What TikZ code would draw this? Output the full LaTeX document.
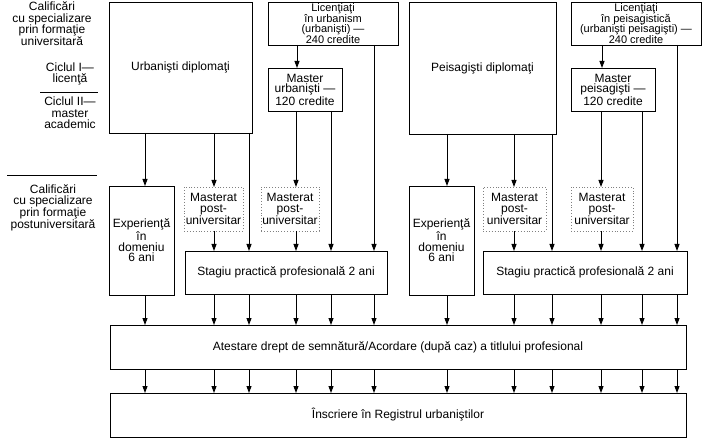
\documentclass[tikz,border=0pt]{standalone}
\usepackage{fontspec}
\setmainfont{Liberation Sans}
\usetikzlibrary{arrows.meta}
\begin{document}
\begin{tikzpicture}[x=1pt,y=-1pt,
  txt/.style={font=\fontsize{12}{10.8}\selectfont, align=center, inner sep=0pt},
  box/.style={draw, line width=0.9pt, txt, anchor=north west, outer sep=0pt},
  tight/.style={font=\fontsize{11}{10.6}\selectfont},
  dbox/.style={box, draw=gray, dotted, line width=0.7pt},
  arr/.style={line width=0.9pt, -{Triangle[length=7pt,width=5pt]}},
  lbl/.style={txt, font=\fontsize{12}{11.3}\selectfont},
  sep/.style={line width=0.9pt}]
\useasboundingbox (0,0) rectangle (709,446);
% boxes
\node[box, minimum width=143, minimum height=131] (urb) at (109,2) {Urbanişti diplomaţi};
\node[box, tight, minimum width=130, minimum height=43] (licU) at (268,2) {Licenţiaţi\\în urbanism\\(urbanişti) ---\\240 credite};
\node[box, minimum width=74, minimum height=43] (masU) at (268,68) {Master\\urbanişti ---\\120 credite};
\node[box, minimum width=147, minimum height=132] (peis) at (409,2) {Peisagişti diplomaţi};
\node[box, tight, minimum width=130, minimum height=43] (licP) at (571,2) {Licenţiaţi\\în peisagistică\\(urbanişti peisagişti) ---\\240 credite};
\node[box, minimum width=84, minimum height=43] (masP) at (571,68) {Master\\peisagişti ---\\120 credite};
\node[box, minimum width=65, minimum height=109] (exp1) at (109,186) {Experienţă\\în\\domeniu\\6 ani};
\node[dbox, minimum width=59, minimum height=44] (mp1) at (184,187) {Masterat\\post-\\universitar};
\node[dbox, minimum width=58, minimum height=44] (mp2) at (261,187) {Masterat\\post-\\universitar};
\node[box, minimum width=202, minimum height=43] (st1) at (185,251) {Stagiu practică profesională 2 ani};
\node[box, minimum width=65, minimum height=109] (exp2) at (409,186) {Experienţă\\în\\domeniu\\6 ani};
\node[dbox, minimum width=63, minimum height=44] (mp3) at (483,187) {Masterat\\post-\\universitar};
\node[dbox, minimum width=62, minimum height=44] (mp4) at (571,187) {Masterat\\post-\\universitar};
\node[box, minimum width=204, minimum height=43] (st2) at (483,251) {Stagiu practică profesională 2 ani};
\node[box, minimum width=576, minimum height=44] (ates) at (110,325) {Atestare drept de semnătură/Acordare (după caz) a titlului profesional};
\node[box, minimum width=576, minimum height=44] (ins) at (110,393) {Înscriere în Registrul urbaniştilor};
% left labels
\node[lbl] (l1) at (52,24) {Calificări\\cu specializare\\prin formaţie\\universitară};
\node[lbl] (l2) at (70,74) {Ciclul I---\\licenţă};
\node[lbl] (l3) at (70,113) {Ciclul II---\\master\\academic};
\node[lbl] (l4) at (53,208) {Calificări\\cu specializare\\prin formaţie\\postuniversitară};
\coordinate (s1a) at (40,92); \coordinate (s1b) at (98,92);
\coordinate (s2a) at (7,175); \coordinate (s2b) at (97,175);
\draw[sep] (s1a) -- (s1b);
\draw[sep] (s2a) -- (s2b);
% column coordinates
\foreach \n/\x in {1/145,2/214,3/249,4/296,5/331,6/374,7/447,8/514,9/552,10/601,11/642,12/677}
  \coordinate (c\n) at (\x,0);
\coordinate (cu) at (297,0); \coordinate (cp) at (602,0);
% top-level arrows
\draw[arr] (licU.south -| cu) -- (masU.north -| cu);
\draw[arr] (licP.south -| cp) -- (masP.north -| cp);
\draw[arr] (urb.south -| c1) -- (exp1.north -| c1);
\draw[arr] (urb.south -| c2) -- (mp1.north -| c2);
\draw[arr] (mp1.south -| c2) -- (st1.north -| c2);
\draw[arr] (urb.south -| c3) -- (st1.north -| c3);
\draw[arr] (masU.south -| c4) -- (mp2.north -| c4);
\draw[arr] (mp2.south -| c4) -- (st1.north -| c4);
\draw[arr] (masU.south -| c5) -- (st1.north -| c5);
\draw[arr] (licU.south -| c6) -- (st1.north -| c6);
\draw[arr] (peis.south -| c7) -- (exp2.north -| c7);
\draw[arr] (peis.south -| c8) -- (mp3.north -| c8);
\draw[arr] (mp3.south -| c8) -- (st2.north -| c8);
\draw[arr] (peis.south -| c9) -- (st2.north -| c9);
\draw[arr] (masP.south -| c10) -- (mp4.north -| c10);
\draw[arr] (mp4.south -| c10) -- (st2.north -| c10);
\draw[arr] (masP.south -| c11) -- (st2.north -| c11);
\draw[arr] (licP.south -| c12) -- (st2.north -| c12);
% to Atestare
\draw[arr] (exp1.south -| c1) -- (ates.north -| c1);
\foreach \n in {2,3,4,5,6} \draw[arr] (st1.south -| c\n) -- (ates.north -| c\n);
\draw[arr] (exp2.south -| c7) -- (ates.north -| c7);
\foreach \n in {8,9,10,11,12} \draw[arr] (st2.south -| c\n) -- (ates.north -| c\n);
% to Inscriere
\foreach \n in {1,...,12} \draw[arr] (ates.south -| c\n) -- (ins.north -| c\n);
\end{tikzpicture}
\end{document}
